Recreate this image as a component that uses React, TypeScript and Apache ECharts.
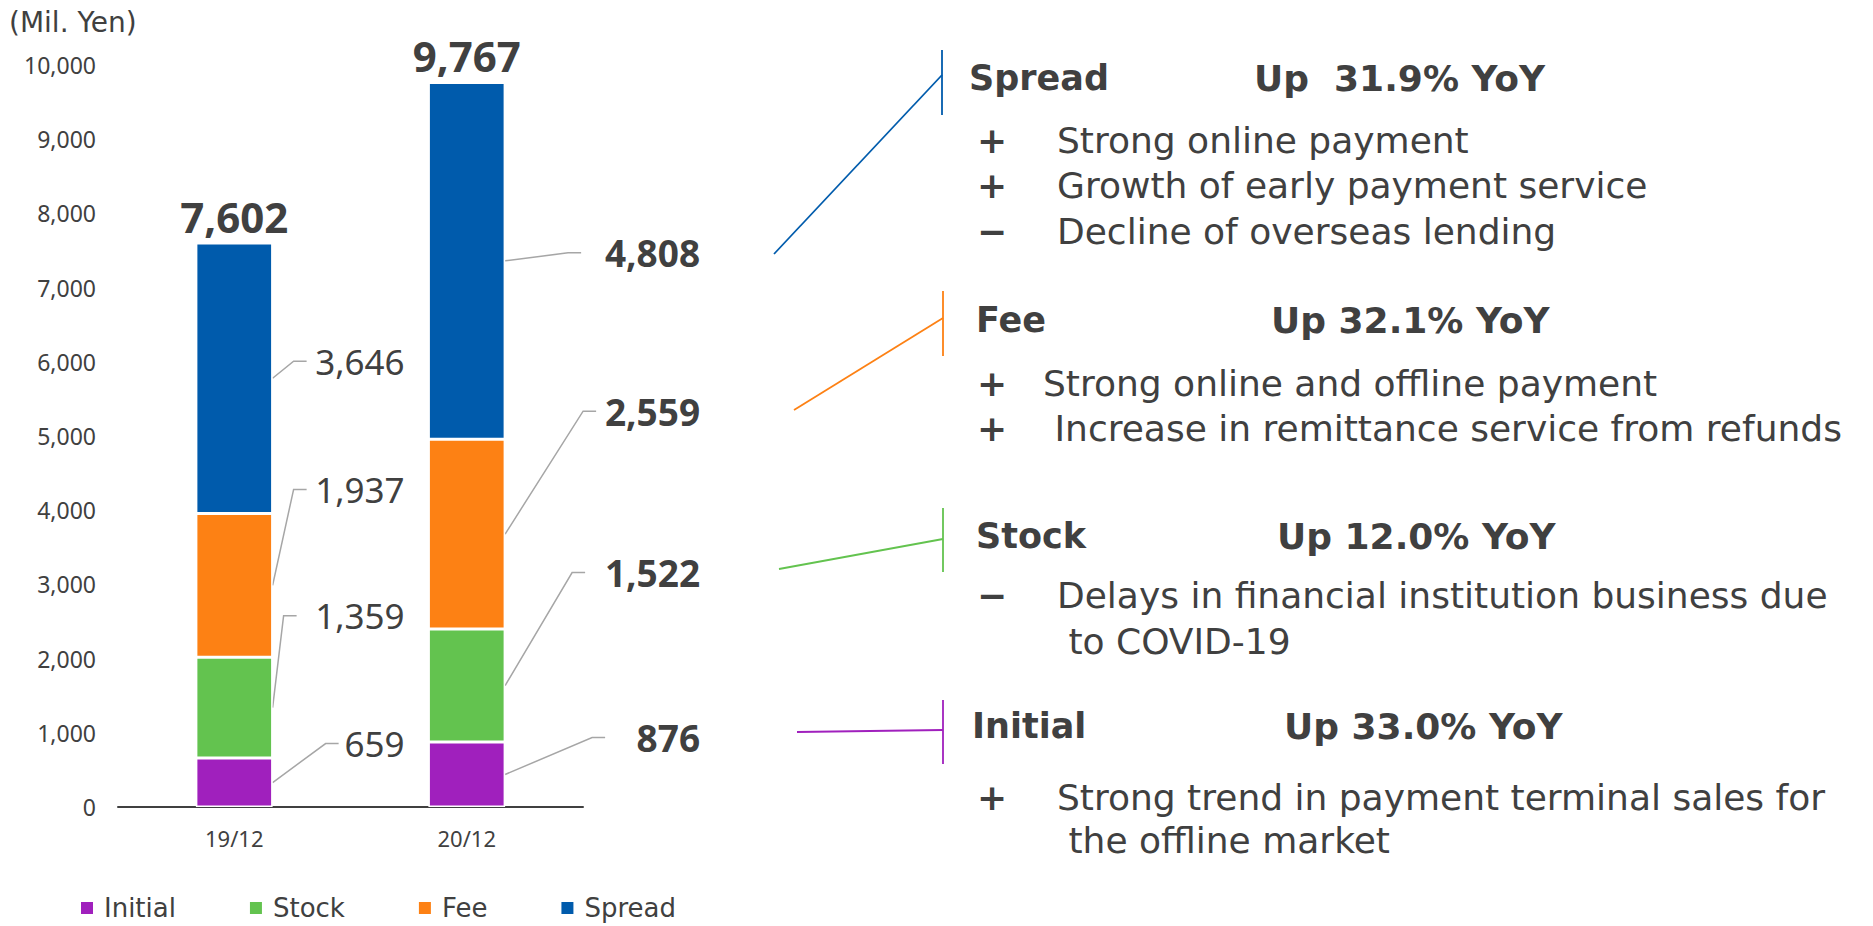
import React, { useEffect, useRef } from 'react';
import * as echarts from 'echarts';

// ---------- data ----------
const CATEGORIES = ['19/12', '20/12'];
const SERIES_NAMES = ['Initial', 'Stock', 'Fee', 'Spread'];
const INITIAL = [659, 876];
const STOCK = [1359, 1522];
const FEE = [1937, 2559];
const SPREAD = [3646, 4808];
const TOTALS = [7602, 9767];
const Y_MIN = 0;
const Y_MAX = 10000;
const Y_INTERVAL = 1000;
const UNIT_LABEL = '(Mil. Yen)';

const COMMENT_TITLES = ['Spread', 'Fee', 'Stock', 'Initial'];
const COMMENT_YOY = ['Up  31.9% YoY', 'Up 32.1% YoY', 'Up 12.0% YoY', 'Up 33.0% YoY'];
const COMMENT_LINES: [string, string][][] = [
  [['+', 'Strong online payment'], ['+', 'Growth of early payment service'], ['\u2212', 'Decline of overseas lending']],
  [['+', 'Strong online and offline payment'], ['+', ' Increase in remittance service from refunds']],
  [['\u2212', 'Delays in financial institution business due'], ['', ' to COVID-19']],
  [['+', 'Strong trend in payment terminal sales for'], ['', ' the offline market']],
];

// ---------- styles / layout ----------
const COLORS = ['#a020bd', '#63c34f', '#fd8114', '#005bac'];
const TEXT = '#404040';
const SANS = 'DejaVu Sans';
const NUM = 'Noto Sans';
const BAR_RATIO = 0.33;
const LEADER_ELBOW = [
  [[53, -39], [11, -92], [21, -96], [21, -17]],
  [[87, -37], [67, -113], [78, -123], [63, -8]],
];
const LEADER_TAIL = 13;
const LABEL_RIGHT = [132, 195];
const LABEL_FONT = [
  { size: 35, weight: 'normal' },
  { size: 37, weight: 'bold' },
];

// commentary block layout (pixels)
const BLOCKS = [
  { tx: 969, ty: 78, yx: 1254, bx: 942, by1: 50, by2: 115, d: [774, 254, 942, 75], rows: [[977, 1057, 140], [977, 1057, 185], [977, 1057, 231]] },
  { tx: 976, ty: 320, yx: 1271, bx: 943, by1: 291, by2: 356, d: [794, 410, 943, 318], rows: [[977, 1043, 383], [977, 1043, 428]] },
  { tx: 976, ty: 536, yx: 1277, bx: 943, by1: 508, by2: 572, d: [779, 569, 943, 539], rows: [[977, 1057, 595], [977, 1057, 641]] },
  { tx: 972, ty: 726, yx: 1284, bx: 943, by1: 700, by2: 764, d: [797, 732, 943, 730], rows: [[977, 1057, 797], [977, 1057, 840]] },
];
const BLOCK_COLORS = [COLORS[3], COLORS[2], COLORS[1], COLORS[0]];

const fmt = (v: number) => Number(v).toLocaleString('en-US');

function buildOption() {
  const layers = [INITIAL, STOCK, FEE, SPREAD];
  const leaderData: number[][] = [];
  CATEGORIES.forEach((_, i) => {
    let base = 0;
    layers.forEach((arr, j) => {
      leaderData.push([i, base + arr[i] / 2, arr[i], j]);
      base += arr[i];
    });
  });

  const barSeries = layers.map((arr, j) => ({
    name: SERIES_NAMES[j],
    type: 'bar',
    stack: 'total',
    barWidth: `${BAR_RATIO * 100}%`,
    data: arr,
    itemStyle: { color: COLORS[j], borderColor: '#ffffff', borderWidth: 1.5 },
    label:
      j === layers.length - 1
        ? {
            show: true,
            position: 'top',
            distance: 6,
            formatter: (p: any) => fmt(TOTALS[p.dataIndex]),
            fontSize: 42,
            fontWeight: 'bold',
            fontFamily: NUM,
            color: TEXT,
          }
        : { show: false },
  }));

  const leaderSeries = {
    type: 'custom',
    name: 'leaders',
    silent: true,
    data: leaderData,
    renderItem: (params: any, api: any) => {
      const ci = api.value(0);
      const mid = api.value(1);
      const val = api.value(2);
      const layer = api.value(3);
      const p = api.coord([ci, mid]);
      const band = api.size([1, 0])[0];
      const sx = p[0] + (band * BAR_RATIO) / 2;
      const sy = p[1];
      const [dx, dy] = LEADER_ELBOW[ci][layer];
      const ex = sx + dx;
      const ey = sy + dy;
      const f = LABEL_FONT[ci];
      return {
        type: 'group',
        children: [
          {
            type: 'polyline',
            shape: { points: [[sx, sy], [ex, ey], [ex + LEADER_TAIL, ey]] },
            style: { stroke: '#a6a6a6', lineWidth: 1.5, fill: 'none' },
          },
          {
            type: 'text',
            style: {
              text: fmt(val),
              x: sx + LABEL_RIGHT[ci],
              y: ey,
              align: 'right',
              verticalAlign: 'middle',
              fontSize: f.size,
              fontWeight: f.weight,
              fontFamily: NUM,
              fill: TEXT,
            },
          },
        ],
      };
    },
  };

  const graphics: any[] = [];
  BLOCKS.forEach((b, k) => {
    const c = BLOCK_COLORS[k];
    graphics.push({ type: 'line', shape: { x1: b.bx, y1: b.by1, x2: b.bx, y2: b.by2 }, style: { stroke: c, lineWidth: 1.8 } });
    graphics.push({ type: 'line', shape: { x1: b.d[0], y1: b.d[1], x2: b.d[2], y2: b.d[3] }, style: { stroke: c, lineWidth: 1.8 } });
    graphics.push({
      type: 'text', x: b.tx, y: b.ty,
      style: { text: COMMENT_TITLES[k], fontSize: 35, fontWeight: 'bold', fontFamily: SANS, fill: TEXT, verticalAlign: 'middle' },
    });
    graphics.push({
      type: 'text', x: b.yx, y: b.ty,
      style: { text: COMMENT_YOY[k], fontSize: 36, fontWeight: 'bold', fontFamily: SANS, fill: TEXT, verticalAlign: 'middle' },
    });
    COMMENT_LINES[k].forEach((ln, r) => {
      const [sxp, txp, yp] = b.rows[r];
      if (ln[0]) {
        graphics.push({
          type: 'text', x: sxp, y: yp,
          style: { text: ln[0], fontSize: 36, fontWeight: 'bold', fontFamily: SANS, fill: TEXT, verticalAlign: 'middle' },
        });
      }
      graphics.push({
        type: 'text', x: txp, y: yp,
        style: { text: ln[1], fontSize: 36, fontFamily: SANS, fill: TEXT, verticalAlign: 'middle' },
      });
    });
  });

  return {
    animation: false,
    backgroundColor: '#ffffff',
    title: {
      text: UNIT_LABEL,
      left: 4,
      top: 3,
      textStyle: { fontSize: 28, fontWeight: 'normal', color: TEXT, fontFamily: SANS },
    },
    legend: {
      data: SERIES_NAMES,
      left: 74,
      top: 890,
      itemWidth: 14,
      itemHeight: 14,
      itemGap: 72,
      icon: 'rect',
      selectedMode: false,
      textStyle: { fontSize: 26, color: TEXT, fontFamily: SANS, padding: [0, 0, 0, 5] },
    },
    grid: { left: 118, right: 1290, top: 65, bottom: 119 },
    xAxis: {
      type: 'category',
      data: CATEGORIES,
      axisLine: { lineStyle: { color: TEXT, width: 2 } },
      axisTick: { length: 9, lineStyle: { color: TEXT, width: 2 } },
      axisLabel: { fontSize: 22, color: TEXT, fontFamily: NUM, margin: 20 },
    },
    yAxis: {
      type: 'value',
      min: Y_MIN,
      max: Y_MAX,
      interval: Y_INTERVAL,
      axisLine: { show: false },
      axisTick: { show: false },
      splitLine: { show: false },
      axisLabel: { formatter: (v: number) => fmt(v), fontSize: 23, color: TEXT, fontFamily: NUM, margin: 22 },
    },
    graphic: graphics,
    series: [...barSeries, leaderSeries],
  };
}

export default function App() {
  const ref = useRef<HTMLDivElement>(null);
  useEffect(() => {
    if (!ref.current) return;
    const chart = echarts.init(ref.current, undefined, { renderer: 'svg' });
    chart.setOption(buildOption() as any);
    return () => chart.dispose();
  }, []);
  return (
    <div
      ref={ref}
      style={{ position: 'fixed', left: 0, top: 0, width: 1873, height: 926, background: '#ffffff' }}
    />
  );
}
